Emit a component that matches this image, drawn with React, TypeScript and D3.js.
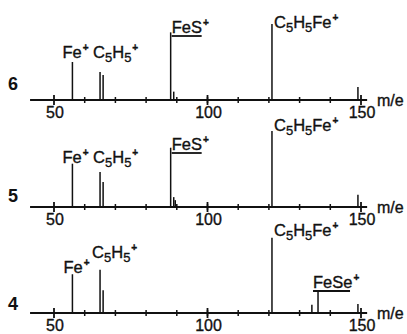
import React from "react";
import * as d3 from "d3";

// spectra numbers (top to bottom)
const panelIds = ["6", "5", "4"];

const peakMass6 = [56, 65, 66, 88, 89, 121, 149];
const peakInt6 = [50, 37, 33, 89, 11, 100, 17];
const peakMass5 = [56, 65, 66, 88, 89, 89.5, 121, 149];
const peakInt5 = [57, 46, 33, 78, 13, 9, 100, 16];
const peakMass4 = [56, 65, 66, 121, 134, 136, 149];
const peakInt4 = [51, 57, 30, 99, 11, 30, 12];

const ionLabels6 = ["Fe+", "C5H5+", "FeS+", "C5H5Fe+"];
const ionMass6 = [56, 65, 88, 121];
const ionLabels5 = ["Fe+", "C5H5+", "FeS+", "C5H5Fe+"];
const ionMass5 = [56, 65, 88, 121];
const ionLabels4 = ["Fe+", "C5H5+", "C5H5Fe+", "FeSe+"];
const ionMass4 = [56, 65, 121, 136];

const majorTicks = [50, 100, 150];
const minorTicks = d3.range(60, 150, 10);
const axisLabel = "m/e";

// layout
const W = 407;
const H = 334;
const axisY = [100, 207, 313];
const idDy = [-10, -5, -3];
const labelOffsets = [
  [[-10, -42], [-7, -42], [1, -67], [2, -72]],
  [[-10, -44], [-7, -44], [1, -57], [2, -76]],
  [[-9, -40], [-8, -55], [2, -77], [-5, -25]],
];
const underlined = ["FeS+", "FeSe+"];
const underlineW: Record<string, number> = { "FeS+": 30, "FeSe+": 37 };
const ink = "#111";
const font = "'Liberation Sans', Arial, sans-serif";

const panels = [
  { id: panelIds[0], mass: peakMass6, inten: peakInt6, labels: ionLabels6, lmass: ionMass6 },
  { id: panelIds[1], mass: peakMass5, inten: peakInt5, labels: ionLabels5, lmass: ionMass5 },
  { id: panelIds[2], mass: peakMass4, inten: peakInt4, labels: ionLabels4, lmass: ionMass4 },
];

function Formula({ text, x, y }: { text: string; x: number; y: number }) {
  // digits -> subscript, "+" -> superscript
  const parts = text.match(/[A-Za-z]+|\d+|\+/g) || [];
  return (
    <text
      x={x}
      y={y}
      fontFamily={font}
      fontSize={16.5}
      fill={ink}
      stroke={ink}
      strokeWidth={0.35}
    >
      {parts.map((p, i) => {
        if (/\d/.test(p))
          return (
            <tspan key={i} fontSize={13} dy={4}>
              {p}
            </tspan>
          );
        const prevSub = i > 0 && /\d/.test(parts[i - 1]);
        if (p === "+")
          return (
            <tspan key={i} fontSize={10} fontWeight="bold" dy={(prevSub ? -4 : 0) - 7} dx={1}>
              {p}
            </tspan>
          );
        return (
          <tspan key={i} dy={prevSub ? -4 : 0}>
            {p}
          </tspan>
        );
      })}
    </text>
  );
}

export default function App() {
  const x = d3.scaleLinear().domain([50, 150]).range([54, 361]);

  return (
    <svg
      width={W}
      height={H}
      style={{ position: "absolute", left: 0, top: 0, background: "#fff" }}
    >
      {panels.map((p, pi) => {
        const y0 = axisY[pi];
        const y = d3.scaleLinear().domain([0, 100]).range([y0, y0 - 76]);
        return (
          <g key={p.id}>
            <text
              x={8}
              y={y0 + idDy[pi]}
              fontFamily={font}
              fontSize={18}
              fontWeight="bold"
              fill={ink}
            >
              {p.id}
            </text>
            {/* axis */}
            <line x1={x(42.2)} x2={x(152)} y1={y0} y2={y0} stroke={ink} strokeWidth={2} />
            {minorTicks.map((t) => (
              <line key={t} x1={x(t)} x2={x(t)} y1={y0 - 3} y2={y0 + 3} stroke={ink} strokeWidth={1.5} />
            ))}
            {majorTicks.map((t) => (
              <g key={t}>
                <line x1={x(t)} x2={x(t)} y1={y0 - 5} y2={y0 + 5} stroke={ink} strokeWidth={1.8} />
                <text
                  x={x(t) + 1}
                  y={y0 + 18}
                  textAnchor="middle"
                  fontFamily={font}
                  fontSize={16}
                  fill={ink}
                  stroke={ink}
                  strokeWidth={0.35}
                >
                  {t}
                </text>
              </g>
            ))}
            <text
              x={377}
              y={y0 + 6}
              fontFamily={font}
              fontSize={16}
              fill={ink}
              stroke={ink}
              strokeWidth={0.35}
            >
              {axisLabel}
            </text>
            {/* peaks */}
            {p.mass.map((m, i) => (
              <line
                key={i}
                x1={x(m)}
                x2={x(m)}
                y1={y0}
                y2={y(p.inten[i])}
                stroke={ink}
                strokeWidth={1.5}
              />
            ))}
            {/* ion labels */}
            {p.labels.map((l, i) => {
              const lx = x(p.lmass[i]) + labelOffsets[pi][i][0];
              const ly = y0 + labelOffsets[pi][i][1];
              return (
                <g key={l}>
                  <Formula text={l} x={lx} y={ly} />
                  {underlined.includes(l) && (
                    <line
                      x1={lx}
                      x2={lx + underlineW[l]}
                      y1={ly + 3}
                      y2={ly + 3}
                      stroke={ink}
                      strokeWidth={1.8}
                    />
                  )}
                </g>
              );
            })}
          </g>
        );
      })}
    </svg>
  );
}
